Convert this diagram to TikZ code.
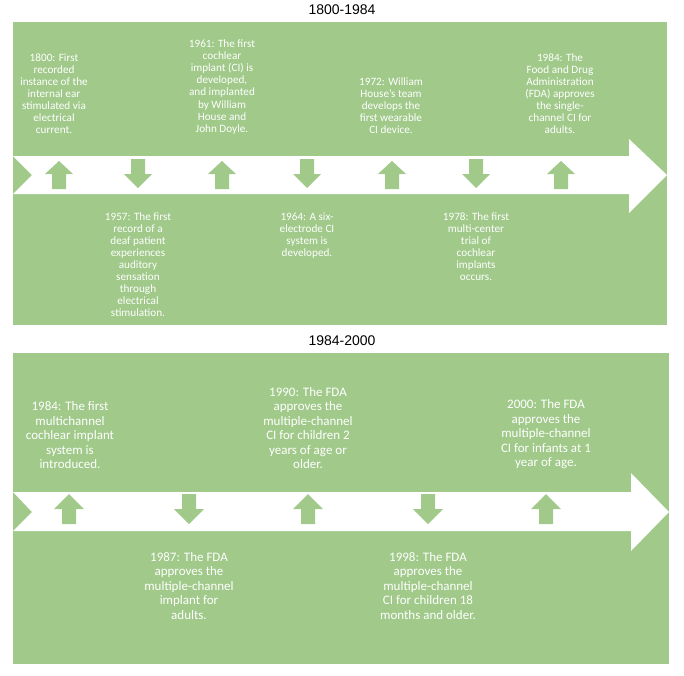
\documentclass[tikz,border=0pt]{standalone}
\usepackage{fontspec}
\setmainfont{Carlito}
\newfontfamily\titlefont{Liberation Sans}
\usepackage{tikz}
\definecolor{cigreen}{RGB}{160,201,138}
\tikzset{panel/.style = {fill=cigreen, draw=none}}
\tikzset{band/.style = {fill=white, draw=none}}
\tikzset{tick/.style = {fill=cigreen, draw=none}}
\tikzset{title/.style = {font=\titlefont\fontsize{14}{16}\selectfont, text=black}}
\tikzset{evsmall/.style = {text=white, align=center, inner sep=0pt,
                           font=\fontsize{11.2}{12}\selectfont}}
\tikzset{evbig/.style = {text=white, align=center, inner sep=0pt,
                         font=\fontsize{13}{14.5}\selectfont}}

\begin{document}
\begin{tikzpicture}[x=1pt, y=-1pt]
    \useasboundingbox (0, 0) rectangle (684, 675);

    % 1800-1984
    \node [title] (head1) at (342, 10) {1800-1984};
    \fill [panel] (13, 22) rectangle (667, 325);
    \fill [band] (13, 156) -- (629, 156) -- (629, 139) -- (667, 175)
      -- (629, 213) -- (629, 194) -- (13, 194) -- (32, 175) -- cycle;

    \foreach \x in {59, 222, 392, 561} {
      \fill [tick] (\x, 161) -- (\x+14, 174) -- (\x+7, 174) -- (\x+7, 189)
        -- (\x-7, 189) -- (\x-7, 174) -- (\x-14, 174) -- cycle;
    }
    \foreach \x in {138, 307, 476} {
      \fill [tick] (\x, 188) -- (\x+14, 174) -- (\x+7, 174) -- (\x+7, 159)
        -- (\x-7, 159) -- (\x-7, 174) -- (\x-14, 174) -- cycle;
    }

    \node [evsmall, anchor=south] (e1800) at (54, 134)
      {1800: First\\recorded\\instance of the\\internal ear\\stimulated via\\electrical\\current.};
    \node [evsmall, anchor=south] (e1961) at (222, 134)
      {1961: The first\\cochlear\\implant (CI) is\\developed,\\and implanted\\by William\\House and\\John Doyle.};
    \node [evsmall, anchor=south] (e1972) at (391, 134)
      {1972: William\\House's team\\develops the\\first wearable\\CI device.};
    \node [evsmall, anchor=south] (e1984a) at (560, 134)
      {1984: The\\Food and Drug\\Administration\\(FDA) approves\\the single-\\channel CI for\\adults.};
    \node [evsmall, anchor=north] (e1957) at (138, 213)
      {1957: The first\\record of a\\deaf patient\\experiences\\auditory\\sensation\\through\\electrical\\stimulation.};
    \node [evsmall, anchor=north] (e1964) at (307, 213)
      {1964: A six-\\electrode CI\\system is\\developed.};
    \node [evsmall, anchor=north] (e1978) at (476, 213)
      {1978: The first\\multi-center\\trial of\\cochlear\\implants\\occurs.};

    % 1984-2000
    \node [title] (head2) at (342, 341) {1984-2000};
    \fill [panel] (13, 353) rectangle (669, 664);
    \fill [band] (13, 492) -- (631, 492) -- (631, 473) -- (669, 512)
      -- (631, 551) -- (631, 531) -- (13, 531) -- (32, 512) -- cycle;

    \foreach \x in {69, 308, 546} {
      \fill [tick] (\x, 494) -- (\x+15, 509) -- (\x+7, 509) -- (\x+7, 524)
        -- (\x-7, 524) -- (\x-7, 509) -- (\x-15, 509) -- cycle;
    }
    \foreach \x in {189, 428} {
      \fill [tick] (\x, 524) -- (\x+15, 509) -- (\x+7, 509) -- (\x+7, 494)
        -- (\x-7, 494) -- (\x-7, 509) -- (\x-15, 509) -- cycle;
    }

    \node [evbig, anchor=south] (e1984b) at (70, 469)
      {1984: The first\\multichannel\\cochlear implant\\system is\\introduced.};
    \node [evbig, anchor=south] (e1990) at (308, 469)
      {1990: The FDA\\approves the\\multiple-channel\\CI for children 2\\years of age or\\older.};
    \node [evbig, anchor=south] (e2000) at (546, 469)
      {2000: The FDA\\approves the\\multiple-channel\\CI for infants at 1\\year of age.};
    \node [evbig, anchor=north] (e1987) at (189, 552)
      {1987: The FDA\\approves the\\multiple-channel\\implant for\\adults.};
    \node [evbig, anchor=north] (e1998) at (428, 552)
      {1998: The FDA\\approves the\\multiple-channel\\CI for children 18\\months and older.};
  \end{tikzpicture}
\end{document}
